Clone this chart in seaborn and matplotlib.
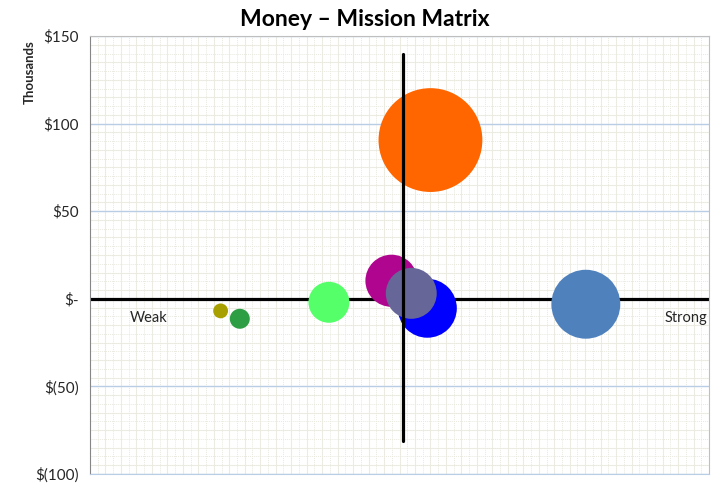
import matplotlib
matplotlib.use("Agg")
import matplotlib.pyplot as plt
import matplotlib.ticker as mticker
import seaborn as sns
import pandas as pd
import numpy as np

# bubble data: mission score (x), money in thousands (y), bubble size (budget)
programs = ["P1", "P2", "P3", "P4", "P5", "P6", "P7", "P8"]
mission = [2.11, 2.42, 3.86, 8.01, 5.50, 4.87, 5.45, 5.19]
money = [-6.9, -11.4, -2.0, -3.1, 90.6, 10.3, -5.4, 3.1]
budget = [55, 100, 420, 1190, 2700, 680, 870, 650]
colors = ["#A8A000", "#2E9E44", "#55FF6A", "#4F81BD", "#FF6600", "#B0058E", "#0000FF", "#666699"]

y_ticks = [-100, -50, 0, 50, 100, 150]
y_labels = ["$(100)", "$(50)", "$-", "$50", "$100", "$150"]

divider_x = 5.05
divider_y = (-81.2, 139.6)

df = pd.DataFrame({"program": programs, "mission": mission, "money": money, "budget": budget})

sns.set_style("white")
plt.rcParams["font.family"] = ["Lato", "DejaVu Sans"]

fig = plt.figure(figsize=(7.19, 4.83), dpi=100)
ax = fig.add_axes([90 / 719, 9 / 483, 619 / 719, 438 / 483])

ax.set_xlim(0, 10)
ax.set_ylim(-100, 150)

# pattern-like background (fine dotted grid + coarser faint squares)
ax.xaxis.set_minor_locator(mticker.MultipleLocator(0.125))
ax.yaxis.set_minor_locator(mticker.MultipleLocator(5))
ax.grid(which="minor", color="#E9E9DF", linestyle=(0, (1, 1)), linewidth=0.7)
ax.vlines(np.arange(0.25, 10, 0.25), -100, 150, color="#EFEFE8", linewidth=0.8, zorder=0.5)
ax.hlines(np.arange(-95, 150, 10), 0, 10, color="#EFEFE8", linewidth=0.8, zorder=0.5)
ax.grid(which="major", axis="y", color="#B9CDE5", linewidth=1)
ax.set_axisbelow(True)

ax.axhline(0, color="black", linewidth=2.3, zorder=2)

sns.scatterplot(data=df, x="mission", y="money", hue="program", palette=colors,
                size="budget", sizes=(0, 2700 * 2.07), size_norm=(0, 2700),
                linewidth=0, alpha=1, legend=False, ax=ax, zorder=3)

ax.plot([divider_x, divider_x], divider_y, color="black", linewidth=2.3, zorder=4)

ax.text(0.94, -10.9, "Weak", ha="center", va="center", fontsize=10.5, zorder=5)
ax.text(9.97, -10.9, "Strong", ha="right", va="center", fontsize=10.5, zorder=5)

ax.set_xticks([])
ax.set_yticks(y_ticks)
ax.set_yticklabels(y_labels, fontsize=11)
ax.tick_params(axis="y", length=0, pad=8)
ax.set_xlabel("")
ax.set_ylabel("")

for side in ["top", "right"]:
    ax.spines[side].set_color("#BFBFBF")
ax.spines["left"].set_color("#868686")
ax.spines["bottom"].set_color("#B9CDE5")

fig.text(30 / 719, 1 - 72 / 483, "Thousands", rotation=90, ha="center", va="center",
         fontsize=9.5, fontweight="bold")
fig.text(365 / 719, 1 - 19 / 483, "Money \u2013 Mission Matrix", ha="center", va="center",
         fontsize=16.5, fontweight="bold", color="black")

fig.savefig("out.png", dpi=100)
